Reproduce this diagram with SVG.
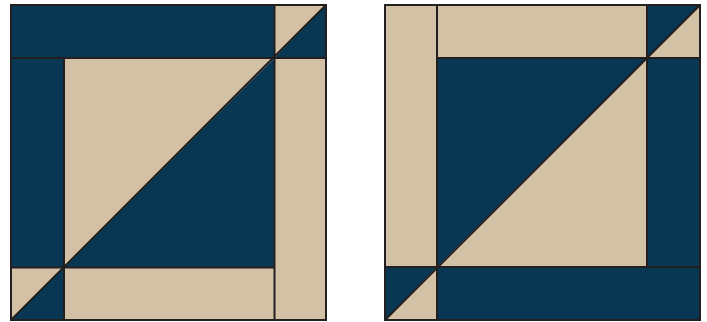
<svg xmlns="http://www.w3.org/2000/svg" width="707" height="322" viewBox="0 0 707 322">
<style>
.n{fill:#083754}
.t{fill:#d2c1a5}
.s{stroke:#231f20;stroke-width:2;fill:none;stroke-linejoin:miter}
</style>
<rect width="707" height="322" fill="#ffffff"/>
<g id="block-left">
<rect class="n" x="11" y="5" width="263.5" height="53"/>
<polygon class="t" points="274.5,5 326,5 274.5,58"/>
<polygon class="n" points="326,5 326,58 274.5,58"/>
<rect class="n" x="11" y="58" width="53" height="209.5"/>
<polygon class="t" points="64,58 274.5,58 64,267.5"/>
<polygon class="n" points="274.5,58 274.5,267.5 64,267.5"/>
<rect class="t" x="274.5" y="58" width="51.5" height="262"/>
<polygon class="t" points="11,267.5 64,267.5 11,320"/>
<polygon class="n" points="64,267.5 64,320 11,320"/>
<rect class="t" x="64" y="267.5" width="210.5" height="52.5"/>
<rect class="s" x="11" y="5" width="315" height="315"/>
<path class="s" d="M11,58H326M11,267.5H274.5M64,58V320M274.5,5V320M11,320L326,5"/>
</g>
<g id="block-right">
<rect class="t" x="385" y="5" width="52" height="262"/>
<rect class="t" x="437" y="5" width="210" height="53"/>
<polygon class="n" points="647,5 700,5 647,58"/>
<polygon class="t" points="700,5 700,58 647,58"/>
<rect class="n" x="647" y="58" width="53" height="209"/>
<polygon class="n" points="437,58 647,58 437,267"/>
<polygon class="t" points="647,58 647,267 437,267"/>
<polygon class="n" points="385,267 437,267 385,320"/>
<polygon class="t" points="437,267 437,320 385,320"/>
<rect class="n" x="437" y="267" width="263" height="53"/>
<rect class="s" x="385" y="5" width="315" height="315"/>
<path class="s" d="M437,58H700M385,267H700M437,5V320M647,5V267M385,320L700,5"/>
</g>
<g id="connectors"></g>
</svg>
